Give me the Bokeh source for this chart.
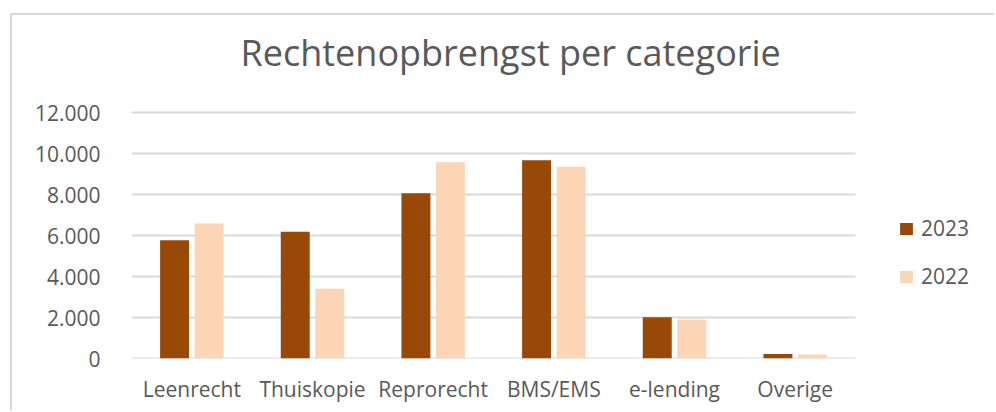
from bokeh.plotting import figure
from bokeh.models import ColumnDataSource, Range1d, FixedTicker, Legend, LegendItem
from bokeh.transform import dodge
from bokeh.embed import file_html
from bokeh.resources import INLINE

categories = ["Leenrecht", "Thuiskopie", "Reprorecht", "BMS/EMS", "e-lending", "Overige"]
series_names = ["2023", "2022"]
values_2023 = [5770, 6180, 8060, 9680, 2010, 215]
values_2022 = [6590, 3400, 9580, 9360, 1900, 200]
y_ticks = [0, 2000, 4000, 6000, 8000, 10000, 12000]
y_tick_labels = ["0", "2.000", "4.000", "6.000", "8.000", "10.000", "12.000"]

colors = ["#984807", "#FBD5B5"]
text_color = "#595959"
grid_color = "#D9D9D9"
font = "Open Sans"

n = len(categories)
x_pos = [i + 0.5 for i in range(n)]
source = ColumnDataSource(dict(x=x_pos, cat=categories, y2023=values_2023, y2022=values_2022))

W, H = 984, 397
left_b, right_b, bottom_b = 119, 2, 54
cat_area_px = 724   # pixel width of the category area
px_per_12000 = 245  # pixel height of the 0..12000 span
frame_px = W - left_b - right_b
frame_top_px = 72   # expected frame top inside the canvas (title panel height)
frame_h = H - bottom_b - frame_top_px

p = figure(
    x_range=Range1d(0, n * frame_px / cat_area_px),
    y_range=Range1d(0, 12000 * frame_h / px_per_12000),
    width=W, height=H,
    output_backend="svg", toolbar_location=None,
    min_border_left=left_b, min_border_right=right_b, min_border_top=0, min_border_bottom=bottom_b,
    title="Rechtenopbrengst per categorie",
)
p.styles = {"margin-left": "10px", "margin-top": "13px",
            "border-left": f"2px solid {grid_color}", "border-top": f"2px solid {grid_color}"}

# horizontal grid lines limited to the category area
p.segment(x0=0, x1=n, y0=y_ticks, y1=y_ticks, line_color=grid_color, line_width=2)

r1 = p.vbar(x=dodge("x", -0.143), top="y2023", width=0.24, source=source,
            fill_color=colors[0], line_color=None)
r2 = p.vbar(x=dodge("x", 0.143), top="y2022", width=0.24, source=source,
            fill_color=colors[1], line_color=None)

p.title.text_font = font
p.title.text_font_size = "36px"
p.title.text_font_style = "normal"
p.title.text_color = text_color
p.title.align = "left"
p.title.offset = 109
p.title.standoff = 20

p.outline_line_color = None
p.xgrid.grid_line_color = None
p.ygrid.grid_line_color = None

p.yaxis.ticker = FixedTicker(ticks=y_ticks)
p.yaxis.major_label_overrides = {t: l for t, l in zip(y_ticks, y_tick_labels)}
p.yaxis.axis_line_color = None
p.yaxis.major_tick_line_color = None
p.yaxis.minor_tick_line_color = None
p.yaxis.major_label_standoff = 25
p.yaxis.major_label_text_font = font
p.yaxis.major_label_text_font_size = "21px"
p.yaxis.major_label_text_color = text_color

p.xaxis.ticker = FixedTicker(ticks=x_pos)
p.xaxis.major_label_overrides = {x: c for x, c in zip(x_pos, categories)}
p.xaxis.axis_line_color = None
p.xaxis.major_tick_line_color = None
p.xaxis.minor_tick_line_color = None
p.xaxis.major_label_standoff = 10
p.xaxis.major_label_text_font = font
p.xaxis.major_label_text_font_size = "21px"
p.xaxis.major_label_text_color = text_color

legend = Legend(items=[LegendItem(label=series_names[0], renderers=[r1]),
                       LegendItem(label=series_names[1], renderers=[r2])],
                location=(767, 68), orientation="vertical")
legend.border_line_color = None
legend.background_fill_alpha = 0
legend.padding = 0
legend.margin = 0
legend.glyph_width = 16
legend.glyph_height = 15
legend.label_height = 15
legend.spacing = 20
legend.label_standoff = 7
legend.label_text_font = font
legend.label_text_font_size = "21px"
legend.label_text_color = text_color
p.add_layout(legend, "center")

open("out.html", "w").write(file_html(p, INLINE))
